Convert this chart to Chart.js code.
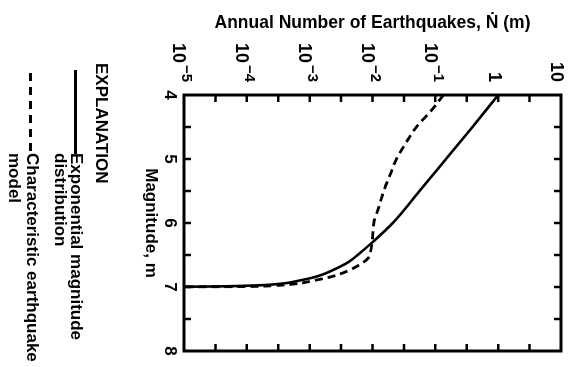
<!DOCTYPE html>
<html>
<head>
<meta charset="utf-8">
<script src="https://cdn.jsdelivr.net/npm/chart.js@4.4.1/dist/chart.umd.min.js"></script>
<style>
  html, body { margin: 0; padding: 0; background: #fff; width: 569px; height: 367px; overflow: hidden; }
  /* La figura original esta girada 90 grados en la imagen */
  #figura { position: absolute; left: 0; top: 0; width: 367px; height: 569px;
            transform-origin: 0 0; transform: translate(569px, 0) rotate(90deg);
            font-family: "Liberation Sans", Arial, sans-serif; font-weight: bold; color: #000; }
  #grafico { position: absolute; left: 0; top: 0; }
  .txt { position: absolute; font-size: 17px; line-height: 17px; white-space: nowrap; }
  .linea { position: absolute; height: 3px; }
</style>
</head>
<body>
<div id="figura">
  <canvas id="grafico" width="367" height="569"></canvas>
  <div class="txt" style="left:63px; top:459px;">EXPLANATION</div>
  <div class="linea" style="left:70px; top:492px; width:84px; background:#000;"></div>
  <div class="txt" style="left:153px; top:484px;">Exponential magnitude</div>
  <div class="txt" style="left:153px; top:500px;">distribution</div>
  <div class="linea" style="left:73px; top:537px; width:80px; background:repeating-linear-gradient(90deg, #000 0 8px, transparent 8px 14px);"></div>
  <div class="txt" style="left:153px; top:528px;">Characteristic earthquake</div>
  <div class="txt" style="left:153px; top:546px;">model</div>
</div>
<script>
// DATOS
// Distribucion exponencial de magnitudes
const magExp = [4.0, 4.5, 5.0, 5.5, 6.0, 6.3, 6.5, 6.6, 6.7, 6.8, 6.85, 6.9, 6.95, 6.98, 6.995, 7.0];
const nExp = [1.0, 0.39, 0.148, 0.056, 0.021, 0.010, 0.0058, 0.0043, 0.0028, 0.00166, 0.00115, 0.00068, 0.00034, 0.0001, 0.000013, 0.000001];

// Modelo del terremoto caracteristico
const magCar = [4.0, 4.25, 4.5, 4.75, 5.0, 5.25, 5.5, 5.75, 6.0, 6.25, 6.45, 6.55, 6.65, 6.75, 6.8, 6.85, 6.9, 6.95, 6.98, 6.995, 7.0];
const nCar = [0.135, 0.085, 0.050, 0.034, 0.024, 0.019, 0.0151, 0.0126, 0.0105, 0.0100, 0.0093, 0.0085, 0.0063, 0.0040, 0.0030, 0.0020, 0.00115, 0.0006, 0.00025, 0.00005, 0.000001];

// Etiquetas del eje logaritmico
const valoresLog = [1e-5, 1e-4, 1e-3, 1e-2, 1e-1, 1, 10];
const basesLog = ['10', '10', '10', '10', '10', '1', '10'];
const exponentesLog = ['\u22125', '\u22124', '\u22123', '\u22122', '\u22121', '', ''];

// Marcas interiores del marco
const marcasMag = [4.5, 5, 5.5, 6, 6.5, 7, 7.5];
const marcasLog = [3.16e-5, 1e-4, 3.16e-4, 1e-3, 3.16e-3, 1e-2, 3.16e-2, 1e-1, 0.316, 1, 3.16];

const fuente = '"Liberation Sans", Arial, sans-serif';
Chart.defaults.font.family = fuente;
Chart.defaults.color = '#000';

const ctx = document.getElementById('grafico').getContext('2d');
const puntos = (xs, ys) => xs.map((m, i) => ({ x: m, y: ys[i] }));

// Plugin: marco, marcas hacia dentro y etiquetas 10^n
const marco = {
    id: 'marco',
    afterDraw(chart) {
        const { ctx, chartArea: a, scales: { x, y } } = chart;
        ctx.save();
        ctx.strokeStyle = '#000';
        ctx.lineWidth = 3;
        ctx.strokeRect(a.left, a.top, a.right - a.left, a.bottom - a.top);

        ctx.lineWidth = 2.5;
        ctx.beginPath();
        marcasMag.forEach(m => {
            const px = x.getPixelForValue(m);
            ctx.moveTo(px, a.bottom); ctx.lineTo(px, a.bottom - 7);
            ctx.moveTo(px, a.top); ctx.lineTo(px, a.top + 7);
        });
        marcasLog.forEach(n => {
            const py = y.getPixelForValue(n);
            ctx.moveTo(a.left, py); ctx.lineTo(a.left + 7, py);
            ctx.moveTo(a.right, py); ctx.lineTo(a.right - 7, py);
        });
        ctx.stroke();

        ctx.fillStyle = '#000';
        ctx.textAlign = 'right';
        ctx.textBaseline = 'alphabetic';
        const xDer = a.left - 13;
        valoresLog.forEach((v, i) => {
            const py = y.getPixelForValue(v);
            const exp = exponentesLog[i];
            if (exp) {
                ctx.font = 'bold 15px ' + fuente;
                ctx.fillText(exp, xDer, py + 1.8);
                const w = ctx.measureText(exp).width;
                ctx.font = 'bold 18px ' + fuente;
                ctx.fillText(basesLog[i], xDer - w - 2, py + 10.5);
            } else {
                ctx.font = 'bold 18px ' + fuente;
                ctx.fillText(basesLog[i], xDer, py + 9.5);
            }
        });
        ctx.restore();
    }
};

new Chart(ctx, {
    type: 'scatter',
    data: {
        datasets: [
            {
                label: 'Exponential magnitude distribution',
                data: puntos(magExp, nExp),
                showLine: true,
                borderColor: '#000',
                borderWidth: 2.6,
                pointRadius: 0,
                cubicInterpolationMode: 'monotone'
            },
            {
                label: 'Characteristic earthquake model',
                data: puntos(magCar, nCar),
                showLine: true,
                borderColor: '#000',
                borderWidth: 2.8,
                borderDash: [8, 5],
                pointRadius: 0,
                cubicInterpolationMode: 'monotone'
            }
        ]
    },
    options: {
        responsive: false,
        animation: false,
        devicePixelRatio: 1,
        layout: { padding: { left: 0, right: 16, top: 8, bottom: 140 } },
        plugins: { legend: { display: false }, tooltip: { enabled: false } },
        scales: {
            x: {
                type: 'linear',
                position: 'bottom',
                min: 4,
                max: 8,
                ticks: { stepSize: 1, padding: 4, font: { size: 17, weight: 'bold' } },
                grid: { display: false, drawTicks: false },
                border: { display: false },
                title: { display: true, text: 'Magnitude, m', font: { size: 17, weight: 'bold' }, padding: 0 },
                afterFit: s => { s.height = 44; }
            },
            y: {
                type: 'logarithmic',
                min: 1e-5,
                max: 10,
                ticks: { display: false },
                grid: { display: false, drawTicks: false },
                border: { display: false },
                title: { display: true, text: 'Annual Number of Earthquakes, \u1E44 (m)', font: { size: 17.5, weight: 'bold' }, padding: { top: 13, bottom: 0 } },
                afterFit: s => { s.width = 95; }
            }
        }
    },
    plugins: [marco]
});
</script>
</body>
</html>
